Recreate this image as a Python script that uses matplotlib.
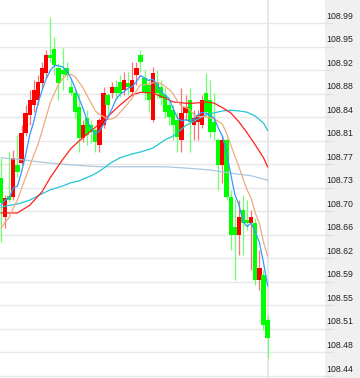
import numpy as np
import pandas as pd
import matplotlib
matplotlib.use("Agg")
import matplotlib.pyplot as plt
from matplotlib.patches import Rectangle

# candles, oldest first
opens = [108.749, 108.688, 108.720, 108.719, 108.769, 108.772, 108.819, 108.847, 108.862, 108.870,
         108.897, 108.912, 108.940, 108.950, 108.920, 108.917, 108.920, 108.890, 108.881, 108.859,
         108.811, 108.842, 108.831, 108.823, 108.800, 108.831, 108.878, 108.881, 108.890, 108.898,
         108.886, 108.897, 108.882, 108.909, 108.940, 108.904, 108.893, 108.839, 108.898, 108.890,
         108.878, 108.862, 108.854, 108.839, 108.808, 108.850, 108.870, 108.831, 108.836, 108.831,
         108.881, 108.870, 108.836, 108.808, 108.769, 108.808, 108.719, 108.672, 108.660, 108.699,
         108.683, 108.678, 108.678, 108.590, 108.597, 108.527]
highs = [108.780, 108.722, 108.789, 108.792, 108.815, 108.831, 108.862, 108.886, 108.901, 108.909,
         108.929, 108.948, 108.999, 108.968, 108.928, 108.951, 108.929, 108.901, 108.886, 108.881,
         108.839, 108.854, 108.839, 108.826, 108.842, 108.890, 108.881, 108.898, 108.901, 108.909,
         108.914, 108.914, 108.929, 108.929, 108.948, 108.917, 108.901, 108.921, 108.917, 108.901,
         108.889, 108.870, 108.862, 108.851, 108.889, 108.878, 108.889, 108.854, 108.854, 108.878,
         108.912, 108.901, 108.881, 108.811, 108.815, 108.811, 108.730, 108.714, 108.714, 108.722,
         108.714, 108.699, 108.686, 108.636, 108.605, 108.535]
lows = [108.649, 108.671, 108.711, 108.714, 108.750, 108.769, 108.814, 108.831, 108.851, 108.862,
        108.889, 108.904, 108.929, 108.909, 108.870, 108.886, 108.901, 108.878, 108.842, 108.789,
        108.805, 108.800, 108.803, 108.789, 108.789, 108.826, 108.844, 108.873, 108.870, 108.875,
        108.878, 108.878, 108.878, 108.893, 108.914, 108.870, 108.851, 108.836, 108.873, 108.862,
        108.842, 108.831, 108.808, 108.789, 108.789, 108.839, 108.789, 108.808, 108.808, 108.826,
        108.847, 108.811, 108.808, 108.730, 108.741, 108.714, 108.636, 108.590, 108.629, 108.629,
        108.668, 108.605, 108.582, 108.574, 108.512, 108.468]
closes = [108.710, 108.717, 108.714, 108.780, 108.758, 108.819, 108.850, 108.870, 108.886, 108.898,
          108.920, 108.940, 108.935, 108.925, 108.897, 108.911, 108.909, 108.881, 108.851, 108.811,
          108.831, 108.815, 108.820, 108.805, 108.839, 108.881, 108.862, 108.890, 108.881, 108.881,
          108.901, 108.890, 108.901, 108.920, 108.929, 108.882, 108.870, 108.912, 108.881, 108.873,
          108.851, 108.844, 108.831, 108.812, 108.850, 108.859, 108.836, 108.842, 108.847, 108.870,
          108.851, 108.820, 108.820, 108.769, 108.808, 108.719, 108.660, 108.660, 108.688, 108.678,
          108.678, 108.688, 108.590, 108.608, 108.519, 108.499]

# closes just left of the window, only to warm up the 5/10 averages
prior_closes = [108.629, 108.636, 108.633, 108.639, 108.636, 108.678, 108.699, 108.702, 108.744]

# slower averages, sampled along the curves (candle index, price)
ma30_idx = [0, 2, 4, 7, 10, 12, 15, 17, 19, 22, 24, 27, 29, 32, 34, 37, 40, 42, 45, 47,
            50, 52, 54, 56, 58, 60, 62, 64, 65]
ma30 = [108.694, 108.694, 108.694, 108.706, 108.727, 108.749, 108.777, 108.794, 108.806, 108.822,
        108.833, 108.850, 108.862, 108.878, 108.882, 108.881, 108.873, 108.867, 108.865, 108.865,
        108.867, 108.865, 108.858, 108.850, 108.836, 108.819, 108.800, 108.780, 108.766]
ma60_idx = ma30_idx
ma60 = [108.703, 108.706, 108.708, 108.714, 108.724, 108.730, 108.736, 108.741, 108.744, 108.752,
        108.759, 108.773, 108.780, 108.786, 108.789, 108.795, 108.808, 108.814, 108.830, 108.837,
        108.847, 108.850, 108.853, 108.854, 108.853, 108.851, 108.845, 108.834, 108.823]
ma120_idx = [0, 5, 10, 17, 24, 34, 40, 45, 51, 56, 61, 65]
ma120 = [108.780, 108.777, 108.773, 108.769, 108.766, 108.766, 108.766, 108.764, 108.761,
         108.756, 108.752, 108.745]

tick_labels = ["108.44", "108.48", "108.51", "108.55", "108.59", "108.62", "108.66", "108.70",
               "108.73", "108.77", "108.81", "108.84", "108.88", "108.92", "108.95", "108.99"]
tick_vals = np.linspace(108.44, 108.99, len(tick_labels))

W, H = 360, 378
fig = plt.figure(figsize=(W / 100, H / 100), dpi=100)
fig.patches.append(Rectangle((325 / W, 0), 1 - 325 / W, 1, transform=fig.transFigure,
                             facecolor="#f0f0f0", edgecolor="none", zorder=-1))
ax = fig.add_axes([0, 0, 325 / W, 1])
ax.set_facecolor("white")

n = len(closes)
x = np.arange(n)
o = np.array(opens)
c = np.array(closes)
up = c > o

ax.set_xlim(-0.25, 79.0)
ax.set_ylim(108.4369, 109.0258)

for v in tick_vals:
    ax.axhline(v, color="#e8e8e8", lw=1.0, zorder=0)
ax.axvline(n - 1, color="#e4e4e4", lw=1.3, zorder=0)

wick_col = np.where(up, "#ff7070", "#70ff70")
ax.vlines(x, lows, highs, colors=wick_col, lw=0.9, zorder=2)
body_h = np.maximum(np.abs(c - o), 0.0016)
ax.bar(x, body_h, bottom=np.minimum(o, c), width=1.05,
       color=np.where(up, "#ff0000", "#00ff00"), lw=0, zorder=3)

allc = pd.Series(prior_closes + closes)
ma5 = allc.rolling(5).mean().iloc[len(prior_closes):].values
ma10 = allc.rolling(10).mean().iloc[len(prior_closes):].values

ax.plot(ma120_idx, ma120, color="#a9c8e0", lw=0.9, zorder=4)
ax.plot(ma60_idx, ma60, color="#22c6d6", lw=0.9, zorder=4)
ax.plot(ma30_idx, ma30, color="#ff2020", lw=0.9, zorder=4)
ax.plot(x, ma10, color="#eeaa80", lw=0.9, zorder=5)
ax.plot(x, ma5, color="#3399ff", lw=0.9, zorder=6)

ax.set_xticks([])
ax.set_yticks([])
for s in ax.spines.values():
    s.set_visible(False)

for v, lbl in zip(tick_vals, tick_labels):
    ax.annotate(lbl, xy=(1, v), xycoords=("axes fraction", "data"),
                xytext=(1, 5), textcoords="offset points", va="center", ha="left",
                fontsize=6.3, family="Liberation Sans", color="#222222",
                annotation_clip=False)
    ax.plot([1, 1 + 8 / 325], [v, v], transform=ax.get_yaxis_transform(),
            color="#e2e2e2", lw=1.0, clip_on=False, zorder=1)

fig.savefig("out.png", dpi=100)
